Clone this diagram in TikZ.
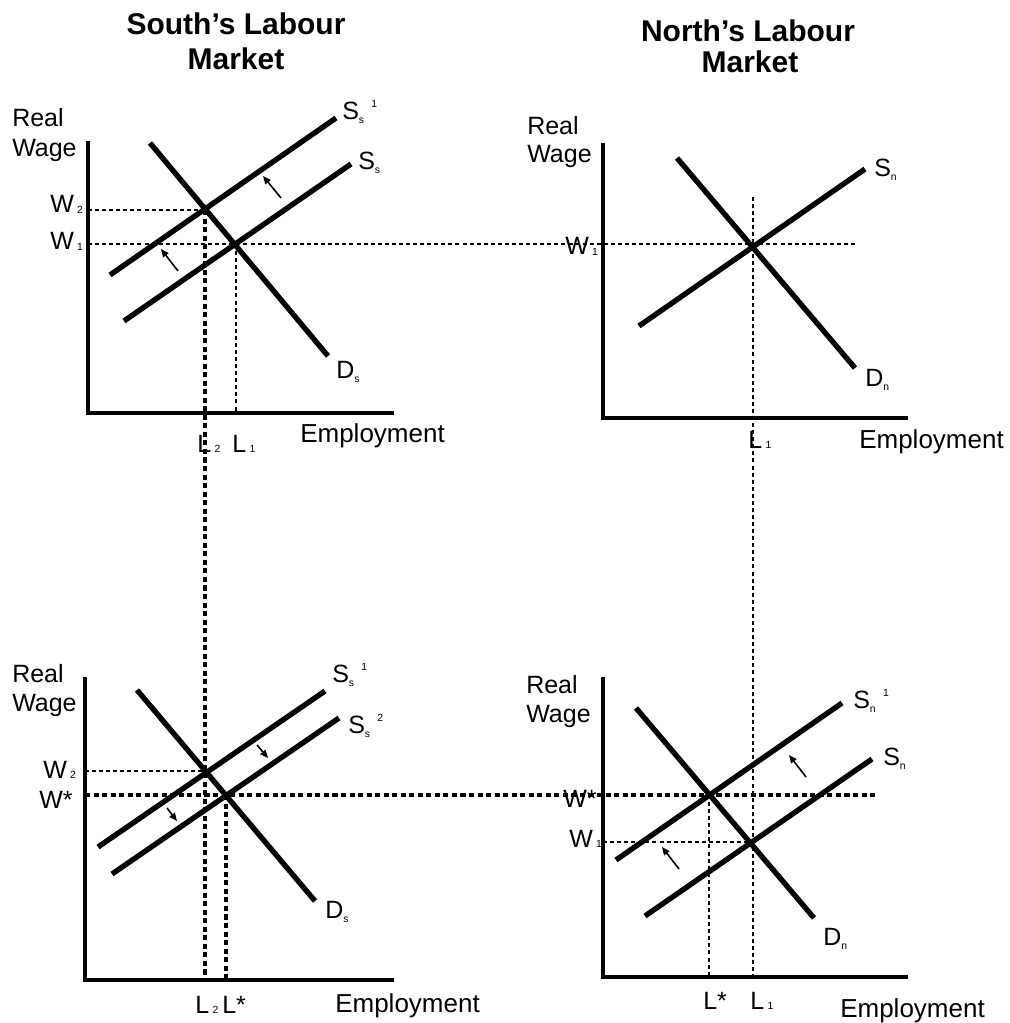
\documentclass[tikz,border=0pt]{standalone}
\usepackage{fontspec}
\setmainfont{Liberation Sans}
\usetikzlibrary{arrows.meta}
\newcommand{\smf}[1]{{\fontsize{7.8pt}{8pt}\selectfont #1}}
\newcommand{\lsub}[1]{\raisebox{-3pt}{\smf{#1}}}
\newcommand{\dsub}[1]{\hspace{2.5pt}\raisebox{-0.5pt}{\smf{#1}}}
\newcommand{\lsup}[1]{\hspace{5.5pt}\raisebox{9pt}{\smf{#1}}}
\begin{document}
\begin{tikzpicture}[x=0.75pt,y=-0.75pt,
  curve/.style={line width=4pt},
  axis/.style={line width=2.7pt, line join=miter},
  thindash/.style={line width=1.2pt, dash pattern=on 3pt off 2.3pt},
  thickdash/.style={line width=2.3pt, dash pattern=on 3.8pt off 2.6pt},
  shiftarrow/.style={line width=1.2pt, -{Triangle[length=6pt,width=5pt]}},
  lab/.style={anchor=base west, inner sep=0pt, font=\fontsize{18.75pt}{20pt}\selectfont},
  emp/.style={anchor=base west, inner sep=0pt, font=\fontsize{19.5pt}{20pt}\selectfont},
  ttl/.style={anchor=base, inner sep=0pt, font=\bfseries\fontsize{22.5pt}{24pt}\selectfont}]
\useasboundingbox (0,0) rectangle (1009,1023);

% ---------- titles ----------
\node[ttl] (t1a) at (236,35) {South’s Labour};
\node[ttl] (t1b) at (236,70) {Market};
\node[ttl] (t2a) at (748,42) {North’s Labour};
\node[ttl] (t2b) at (750,73) {Market};

% ---------- coordinates ----------
% top-left
\coordinate (tlO) at (88,413); \coordinate (tlY) at (88,141); \coordinate (tlX) at (394,413);
\coordinate (tlDa) at (150,143); \coordinate (tlDb) at (328,356);
\coordinate (tlSAa) at (110,275); \coordinate (tlSAb) at (336,118);
\coordinate (tlSa) at (124,321); \coordinate (tlSb) at (351,164);
\coordinate (tlW2a) at (88,210); \coordinate (tlW2b) at (205,210);
\coordinate (W1a) at (88,244); \coordinate (W1b) at (855,244);
\coordinate (L2a) at (205,210); \coordinate (L2b) at (205,980);
\coordinate (tlL1a) at (236,244); \coordinate (tlL1b) at (236,415);
% top-right
\coordinate (trO) at (603,418); \coordinate (trY) at (603,143); \coordinate (trX) at (908,418);
\coordinate (trDa) at (677,158); \coordinate (trDb) at (855,368);
\coordinate (trSa) at (639,326); \coordinate (trSb) at (865,169);
\coordinate (NL1a) at (753,197); \coordinate (NL1b) at (753,977);
% bottom-left
\coordinate (blO) at (85,980); \coordinate (blY) at (85,677); \coordinate (blX) at (394,980);
\coordinate (blDa) at (137,690); \coordinate (blDb) at (315,901);
\coordinate (blSAa) at (98,847); \coordinate (blSAb) at (325,691);
\coordinate (blSBa) at (112,874); \coordinate (blSBb) at (339,718);
\coordinate (blW2a) at (85,771); \coordinate (blW2b) at (205,771);
\coordinate (WSa) at (85,795); \coordinate (WSb) at (875,795);
\coordinate (blLSa) at (226,795); \coordinate (blLSb) at (226,980);
% bottom-right
\coordinate (brO) at (603,977); \coordinate (brY) at (603,677); \coordinate (brX) at (908,977);
\coordinate (brDa) at (636,708); \coordinate (brDb) at (814,918);
\coordinate (brSAa) at (616,860); \coordinate (brSAb) at (842,703);
\coordinate (brSa) at (645,916); \coordinate (brSb) at (872,759);
\coordinate (brW1a) at (603,842); \coordinate (brW1b) at (753,842);
\coordinate (brLSa) at (709,795); \coordinate (brLSb) at (709,977);

% ---------- guide lines ----------
\draw[thindash] (tlW2a) -- (tlW2b);
\draw[thindash] (W1a) -- (W1b);
\draw[thindash] (tlL1a) -- (tlL1b);
\draw[thickdash] (L2a) -- (L2b);
\draw[thindash] (NL1a) -- (NL1b);
\draw[thindash] (blW2a) -- (blW2b);
\draw[thickdash] (WSa) -- (WSb);
\draw[thickdash] (blLSa) -- (blLSb);
\draw[thindash] (brW1a) -- (brW1b);
\draw[thindash] (brLSa) -- (brLSb);

% ---------- axes ----------
\draw[axis] (tlY) -- (tlO) -- (tlX);
\draw[axis] (trY) -- (trO) -- (trX);
\draw[axis] (blY) -- (blO) -- (blX);
\draw[axis] (brY) -- (brO) -- (brX);

% ---------- curves ----------
\draw[curve] (tlDa) -- (tlDb);
\draw[curve] (tlSAa) -- (tlSAb);
\draw[curve] (tlSa) -- (tlSb);
\draw[curve] (trDa) -- (trDb);
\draw[curve] (trSa) -- (trSb);
\draw[curve] (blDa) -- (blDb);
\draw[curve] (blSAa) -- (blSAb);
\draw[curve] (blSBa) -- (blSBb);
\draw[curve] (brDa) -- (brDb);
\draw[curve] (brSAa) -- (brSAb);
\draw[curve] (brSa) -- (brSb);

% ---------- shift arrows ----------
\coordinate (a1s) at (281,198); \coordinate (a1e) at (263,176);
\coordinate (a2s) at (178,271); \coordinate (a2e) at (161,249);
\coordinate (a3s) at (257,745); \coordinate (a3e) at (268,758);
\coordinate (a4s) at (167,808); \coordinate (a4e) at (177,821);
\coordinate (a5s) at (806,777); \coordinate (a5e) at (789,755);
\coordinate (a6s) at (679,869); \coordinate (a6e) at (662,847);
\draw[shiftarrow] (a1s) -- (a1e);
\draw[shiftarrow] (a2s) -- (a2e);
\draw[shiftarrow] (a3s) -- (a3e);
\draw[shiftarrow] (a4s) -- (a4e);
\draw[shiftarrow] (a5s) -- (a5e);
\draw[shiftarrow] (a6s) -- (a6e);

% ---------- labels: top-left ----------
\node[lab] (tlR) at (12,127) {Real};
\node[lab] (tlW) at (12,157) {Wage};
\node[lab] (tlS1) at (342,120) {S\lsub{s}\lsup{1}};
\node[lab] (tlS) at (358,170) {S\lsub{s}};
\node[lab] (tlD) at (336,378) {D\lsub{s}};
\node[lab] (tlw2) at (50,213) {W\dsub{2}};
\node[lab] (tlw1) at (50,250) {W\dsub{1}};
\node[lab] (tll2) at (197,452) {L\dsub{2}};
\node[lab] (tll1) at (232,452) {L\dsub{1}};
\node[emp] (tlE) at (300,442) {Employment};

% ---------- labels: top-right ----------
\node[lab] (trR) at (527,135) {Real};
\node[lab] (trW) at (527,163) {Wage};
\node[lab] (trS) at (874,177) {S\lsub{n}};
\node[lab] (trD) at (865,386) {D\lsub{n}};
\node[lab] (trw1) at (565,255) {W\dsub{1}};
\node[lab] (trl1) at (748,448) {L\dsub{1}};
\node[emp] (trE) at (859,448) {Employment};

% ---------- labels: bottom-left ----------
\node[lab] (blR) at (12,682) {Real};
\node[lab] (blW) at (12,711) {Wage};
\node[lab] (blS1) at (332,682) {S\lsub{s}\lsup{1}};
\node[lab] (blS2) at (348,733) {S\lsub{s}\lsup{2}};
\node[lab] (blD) at (325,918) {D\lsub{s}};
\node[lab] (blw2) at (43,778) {W\dsub{2}};
\node[lab] (blws) at (39,808) {W*};
\node[lab] (bll2) at (195,1013) {L\dsub{2}};
\node[lab] (blls) at (222,1013) {L*};
\node[emp] (blE) at (335,1012) {Employment};

% ---------- labels: bottom-right ----------
\node[lab] (brR) at (526,693) {Real};
\node[lab] (brW) at (526,722) {Wage};
\node[lab] (brS1) at (853,708) {S\lsub{n}\lsup{1}};
\node[lab] (brS) at (883,765) {S\lsub{n}};
\node[lab] (brD) at (823,945) {D\lsub{n}};
\node[lab] (brws) at (563,807) {W*};
\node[lab] (brw1) at (569,847) {W\dsub{1}};
\node[lab] (brls) at (703,1009) {L*};
\node[lab] (brl1) at (750,1009) {L\dsub{1}};
\node[emp] (brE) at (840,1017) {Employment};
\end{tikzpicture}
\end{document}
